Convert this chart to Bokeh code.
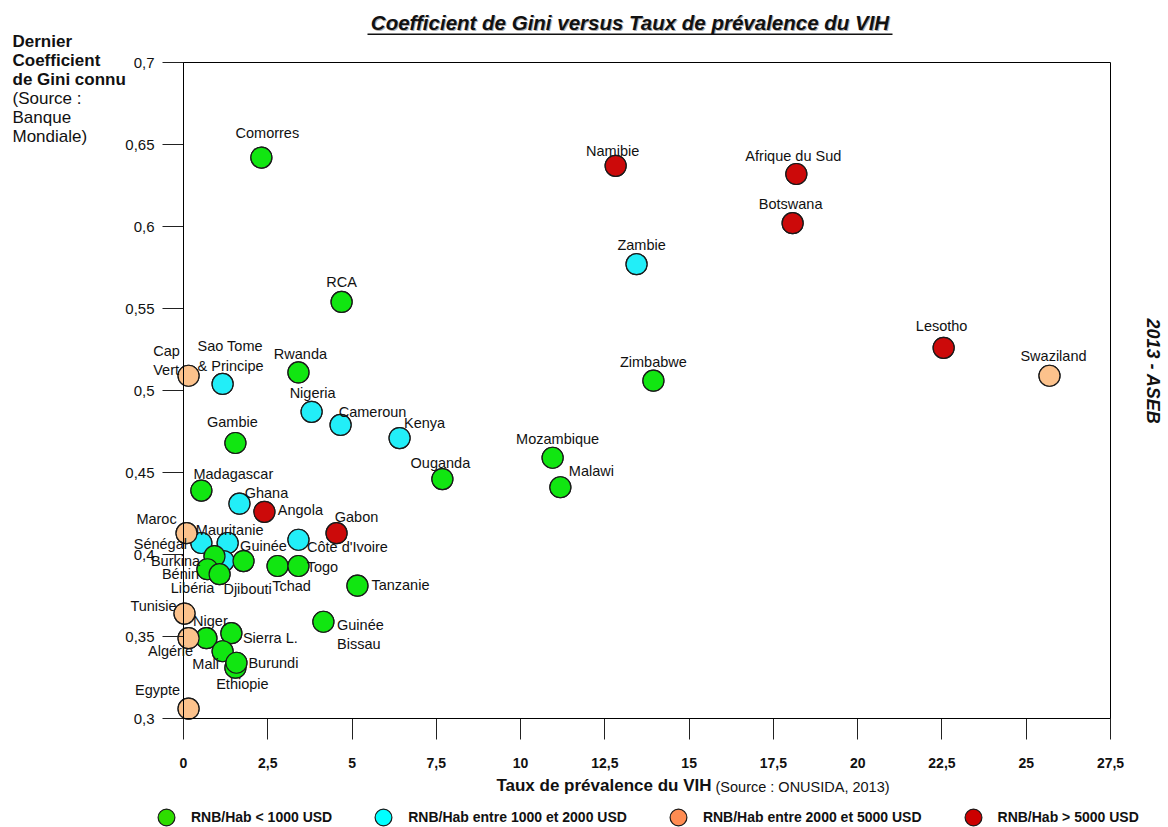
from bokeh.plotting import figure
from bokeh.models import (ColumnDataSource, LabelSet, Label, Range1d, FixedTicker, LinearAxis,
                          Legend, LegendItem, BoxAnnotation, CustomJSTickFormatter)
from bokeh.core.properties import value
from bokeh.embed import file_html
from bokeh.resources import INLINE
import math

# ---------------- DATA ----------------
green_names = ["Comorres", "RCA", "Rwanda", "Gambie", "Madagascar", "Zimbabwe", "Ouganda",
               "Mozambique", "Malawi", "Guinée", "Tchad", "Togo", "Tanzanie", "Guinée\nBissau",
               "Burkina", "Bénin", "Libéria", "Niger", "Sierra L.", "Mali", "Ethiopie", "Burundi"]
green_x = [2.31, 4.69, 3.41, 1.54, 0.53, 13.94, 7.68, 10.95, 11.18, 1.78, 2.79, 3.41, 5.16, 4.15,
           0.92, 0.71, 1.07, 0.68, 1.42, 1.16, 1.54, 1.57]
green_y = [0.642, 0.554, 0.511, 0.468, 0.439, 0.506, 0.446, 0.459, 0.441, 0.396, 0.393, 0.393,
           0.381, 0.359, 0.399, 0.391, 0.388, 0.349, 0.352, 0.341, 0.331, 0.334]

cyan_names = ["Zambie", "Sao Tome\n& Principe", "Nigeria", "Cameroun", "Kenya", "Ghana",
              "Sénégal", "Mauritanie", "Djibouti", "Côte d'Ivoire"]
cyan_x = [13.44, 1.16, 3.80, 4.66, 6.41, 1.66, 0.53, 1.31, 1.19, 3.41]
cyan_y = [0.577, 0.504, 0.487, 0.479, 0.471, 0.431, 0.407, 0.407, 0.396, 0.409]

orange_names = ["Cap\nVert", "Maroc", "Tunisie", "Algérie", "Egypte", "Swaziland"]
orange_x = [0.15, 0.09, 0.03, 0.15, 0.15, 25.69]
orange_y = [0.509, 0.413, 0.364, 0.349, 0.306, 0.509]

red_names = ["Namibie", "Afrique du Sud", "Botswana", "Lesotho", "Angola", "Gabon"]
red_x = [12.82, 18.18, 18.07, 22.55, 2.40, 4.54]
red_y = [0.637, 0.632, 0.602, 0.526, 0.426, 0.413]

legend_labels = ["RNB/Hab < 1000 USD", "RNB/Hab entre 1000 et 2000 USD",
                 "RNB/Hab entre 2000 et 5000 USD", "RNB/Hab > 5000 USD"]

x_ticks = [0, 2.5, 5, 7.5, 10, 12.5, 15, 17.5, 20, 22.5, 25, 27.5]
x_tick_labels = ["0", "2,5", "5", "7,5", "10", "12,5", "15", "17,5", "20", "22,5", "25", "27,5"]
y_ticks = [0.3, 0.35, 0.4, 0.45, 0.5, 0.55, 0.6, 0.65, 0.7]
y_tick_labels = ["0,3", "0,35", "0,4", "0,45", "0,5", "0,55", "0,6", "0,65", "0,7"]

# ---------------- STYLE (label offsets in px: dx right, dy down) ----------------
label_offsets = {
    "Comorres": (6, -25), "RCA": (0, -20), "Rwanda": (2, -18), "Gambie": (-3, -21),
    "Madagascar": (32, -17), "Zimbabwe": (0, -19), "Ouganda": (-2, -16), "Mozambique": (5, -19),
    "Malawi": (31, -16), "Guinée": (20, -15), "Tchad": (14, 20), "Togo": (24, 1),
    "Tanzanie": (43, -1), "Guinée\nBissau": (37, 13), "Burkina": (-39, 5), "Bénin": (-27, 5),
    "Libéria": (-27, 14), "Niger": (4, -17), "Sierra L.": (39, 5), "Mali": (-17, 13),
    "Ethiopie": (7, 16), "Burundi": (37, 0),
    "Zambie": (5, -19), "Sao Tome\n& Principe": (8, -28), "Nigeria": (1, -19),
    "Cameroun": (32, -13), "Kenya": (25, -15), "Ghana": (27, -11), "Sénégal": (-41, 1),
    "Mauritanie": (2, -13), "Djibouti": (24, 28), "Côte d'Ivoire": (49, 7),
    "Cap\nVert": (-22, -15), "Maroc": (-30, -14), "Tunisie": (-31, -8), "Algérie": (-18, 13),
    "Egypte": (-31, -19), "Swaziland": (4, -20),
    "Namibie": (-3, -15), "Afrique du Sud": (-3, -18), "Botswana": (-2, -19),
    "Lesotho": (-2, -22), "Angola": (36, -2), "Gabon": (20, -16),
}

FONT = "Liberation Sans"
W, H = 1168, 827
# plot box in canvas pixels
FL, FR, FT, FB = 183, 1110, 62, 718
X0, X1, Y0, Y1 = 0.0, 27.5, 0.3, 0.7
kx = (FR - FL) / (X1 - X0)
ky = (FB - FT) / (Y1 - Y0)

p = figure(width=W, height=H,
           x_range=Range1d(X0 - FL / kx, X0 + (W - FL) / kx),
           y_range=Range1d(Y0 - (H - FB) / ky, Y0 + FB / ky),
           output_backend="svg", toolbar_location=None,
           x_axis_location=None, y_axis_location=None,
           min_border_left=0, min_border_right=0, min_border_top=0, min_border_bottom=0)
p.background_fill_color = "white"
p.border_fill_color = "white"
p.outline_line_color = None
p.xgrid.visible = False
p.ygrid.visible = False

# plot box
p.add_layout(BoxAnnotation(left=X0, right=X1, bottom=Y0, top=Y1, fill_alpha=0,
                           line_color="black", line_width=1, line_alpha=1))

tick_js = """
for (let i = 0; i < tv.length; i++) {
  if (Math.abs(tv[i] - tick) < 1e-9) { return tl[i]; }
}
return "";
"""
xaxis = LinearAxis(fixed_location=Y0, bounds=(X0, X1), ticker=FixedTicker(ticks=x_ticks),
                   formatter=CustomJSTickFormatter(args=dict(tv=x_ticks, tl=x_tick_labels), code=tick_js))
yaxis = LinearAxis(fixed_location=X0, bounds=(Y0, Y1), ticker=FixedTicker(ticks=y_ticks),
                   formatter=CustomJSTickFormatter(args=dict(tv=y_ticks, tl=y_tick_labels), code=tick_js))
for ax in (xaxis, yaxis):
    ax.axis_line_color = "black"
    ax.major_tick_in = 0
    ax.major_tick_out = 21
    ax.major_tick_line_color = "#222222"
    ax.minor_tick_line_color = None
    ax.major_label_text_font = FONT
    ax.major_label_text_color = "#111111"
xaxis.major_label_text_font_size = "14px"
xaxis.major_label_text_font_style = "bold"
xaxis.major_label_standoff = 18
yaxis.major_label_text_font_size = "15px"
yaxis.major_label_standoff = 8
p.add_layout(xaxis, "below")
p.add_layout(yaxis, "left")

# ---------------- POINTS ----------------
series = [
    (cyan_names, cyan_x, cyan_y, "#22EEF8", "#00FFFF", legend_labels[1]),
    (green_names, green_x, green_y, "#11E611", "#2EDD00", legend_labels[0]),
    (orange_names, orange_x, orange_y, "#FCC28C", "#FF8C52", legend_labels[2]),
    (red_names, red_x, red_y, "#CC0A0A", "#CC0000", legend_labels[3]),
]

# legend proxies (same points, legend colour, hidden beneath the visible markers)
legend_map = {}
for names, xs, ys, col, lcol, lab in series:
    src = ColumnDataSource(dict(x=xs, y=ys))
    r = p.scatter("x", "y", source=src, size=21, fill_color=lcol, line_color="#1a1a1a",
                  line_width=1.2, marker="circle")
    legend_map[lab] = r

for names, xs, ys, col, lcol, lab in series:
    src = ColumnDataSource(dict(x=xs, y=ys, name=names))
    p.scatter("x", "y", source=src, size=21, fill_color=col, line_color="#1a1a1a",
              line_width=1.2, marker="circle")

for names, xs, ys, col, lcol, lab in series:
    dx = [label_offsets[n][0] for n in names]
    dy = [-label_offsets[n][1] for n in names]
    src = ColumnDataSource(dict(x=xs, y=ys, name=names, dx=dx, dy=dy))
    ls = LabelSet(x="x", y="y", text="name", source=src, x_offset="dx", y_offset="dy",
                  text_align="center", text_baseline="middle", text_font=value(FONT),
                  text_font_size=value("14.5px"), text_color="#111111")
    p.add_layout(ls)

# ---------------- LEGEND ----------------
items = [LegendItem(label=lab, renderers=[legend_map[lab]]) for lab in legend_labels]
legend = Legend(items=items, orientation="horizontal", location=(145, H - 838),
                padding=0, margin=0, spacing=30, glyph_width=42, glyph_height=42,
                label_standoff=4, label_text_font=FONT, label_text_font_size="14px",
                label_text_font_style="bold", label_text_color="#111111",
                border_line_color=None, background_fill_alpha=0)
p.add_layout(legend)

# ---------------- TEXTS (canvas pixel positions) ----------------
def add_text(px, py, text, size, style="normal", align="left", angle=0, color="#111111"):
    p.add_layout(Label(x=px, y=H - py, x_units="screen", y_units="screen", text=text,
                       text_font=FONT, text_font_size=size, text_font_style=style,
                       text_align=align, text_baseline="middle", angle=angle,
                       text_color=color))

title = "Coefficient de Gini versus Taux de prévalence du VIH"
add_text(630.5, 22.5, title, "20.5px", "bold italic", "center", color="#b0b0b0")
add_text(629.5, 21.5, title, "20.5px", "bold italic", "center")
p.add_layout(BoxAnnotation(left=367, right=892, bottom=H - 34.5, top=H - 33,
                           left_units="screen", right_units="screen",
                           bottom_units="screen", top_units="screen",
                           fill_color="#111111", fill_alpha=1, line_color=None))

y_title = [("Dernier", "bold"), ("Coefficient", "bold"), ("de Gini connu", "bold"),
           ("(Source :", "normal"), ("Banque", "normal"), ("Mondiale)", "normal")]
for i, (t, st) in enumerate(y_title):
    add_text(12, 41 + i * 19, t, "17px", st, "left")

add_text(711, 785, "Taux de prévalence du VIH", "17px", "bold", "right")
add_text(715, 786, "(Source : ONUSIDA, 2013)", "14.5px", "normal", "left")

add_text(1152, 371, "2013 - ASEB", "18px", "bold italic", "center", angle=-math.pi / 2)

open("out.html", "w").write(file_html(p, INLINE))
